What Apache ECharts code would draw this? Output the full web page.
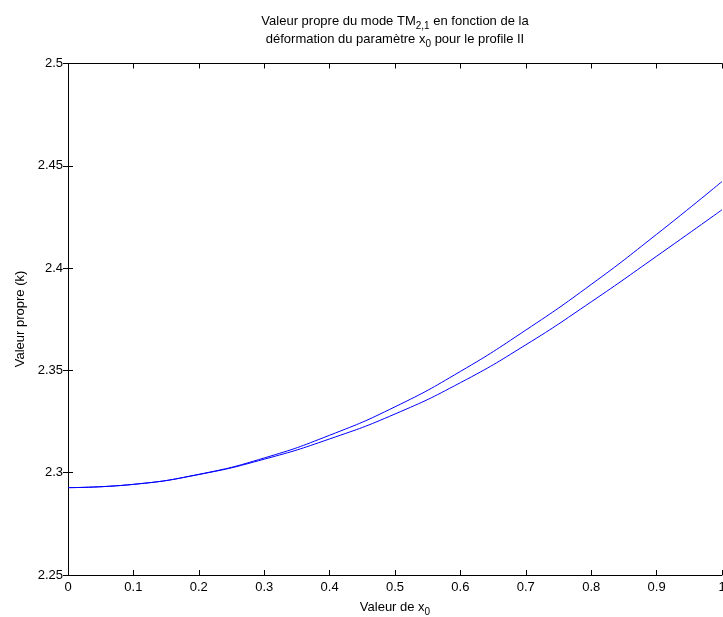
<!DOCTYPE html>
<html>
<head>
<meta charset="utf-8">
<script src="https://cdn.jsdelivr.net/npm/echarts@6/dist/echarts.min.js"></script>
<style>
html,body{margin:0;padding:0;background:#fff;}
#c{width:723px;height:617px;}
</style>
</head>
<body>
<div id="c"></div>
<script>
const xValues = [0, 0.1, 0.2, 0.3, 0.4, 0.5, 0.6, 0.7, 0.8, 0.9, 1.0];
const upperCurve = [2.2927, 2.2943, 2.2992, 2.3072, 2.3183, 2.3322, 2.3495, 2.3697, 2.3920, 2.4165, 2.4423];
const lowerCurve = [2.2927, 2.2943, 2.2991, 2.3066, 2.3165, 2.3287, 2.3440, 2.3625, 2.3835, 2.4058, 2.4285];
const xTicks = ['0','0.1','0.2','0.3','0.4','0.5','0.6','0.7','0.8','0.9','1'];
const yTicks = ['2.25','2.3','2.35','2.4','2.45','2.5'];

const FONT = 'Liberation Sans, Arial, Helvetica, sans-serif';
const chart = echarts.init(document.getElementById('c'), null, {renderer:'canvas'});

const subRich = { s: { fontSize: 10, fontFamily: FONT, lineHeight: 10, padding: [10,0,0,0], fill:'#000' } };

const axisCommon = {
  axisLine: { show: true, lineStyle: { color: '#000', width: 1 } },
  axisTick: { show: true, inside: true, length: 5, lineStyle: { color: '#000' } },
  splitLine: { show: false }
};

chart.setOption({
  animation: false,
  backgroundColor: '#fff',
  grid: { left: 68, right: 1, top: 63.5, bottom: 42, containLabel: false, outerBoundsMode: 'none' },
  xAxis: [
    Object.assign({}, axisCommon, {
      type: 'value', min: 0, max: 1, interval: 0.1, position: 'bottom',
      axisLabel: { color: '#000', fontSize: 13, fontFamily: FONT, margin: 6, hideOverlap: false,
        formatter: v => xTicks[Math.round(v*10)] }
    }),
    Object.assign({}, axisCommon, {
      type: 'value', min: 0, max: 1, interval: 0.1, position: 'top',
      axisLabel: { show: false }
    })
  ],
  yAxis: [
    Object.assign({}, axisCommon, {
      type: 'value', min: 2.25, max: 2.5, interval: 0.05, position: 'left',
      axisLabel: { color: '#000', fontSize: 13, fontFamily: FONT, margin: 5,
        formatter: v => yTicks[Math.round((v-2.25)/0.05)] }
    }),
    Object.assign({}, axisCommon, {
      type: 'value', min: 2.25, max: 2.5, interval: 0.05, position: 'right',
      axisLabel: { show: false }
    })
  ],
  series: [
    { type: 'line', xAxisIndex: 0, yAxisIndex: 0, showSymbol: false, smooth: true,
      lineStyle: { color: '#0000ff', width: 1 },
      data: xValues.map((x,i) => [x, upperCurve[i]]) },
    { type: 'line', xAxisIndex: 0, yAxisIndex: 0, showSymbol: false, smooth: true,
      lineStyle: { color: '#0000ff', width: 1 },
      data: xValues.map((x,i) => [x, lowerCurve[i]]) }
  ],
  graphic: [
    { type: 'text', x: 395, y: 21, style: {
        text: 'Valeur propre du mode TM{s|2,1} en fonction de la',
        rich: subRich, fontSize: 13, fontFamily: FONT, fill: '#000', align: 'center', verticalAlign: 'middle' } },
    { type: 'text', x: 395, y: 39, style: {
        text: 'déformation du paramètre x{s|0} pour le profile II',
        rich: subRich, fontSize: 13, fontFamily: FONT, fill: '#000', align: 'center', verticalAlign: 'middle' } },
    { type: 'text', x: 395, y: 607, style: {
        text: 'Valeur de x{s|0}',
        rich: subRich, fontSize: 13, fontFamily: FONT, fill: '#000', align: 'center', verticalAlign: 'middle' } },
    { type: 'text', x: 20, y: 319, rotation: Math.PI/2, style: {
        text: 'Valeur propre (k)', fontSize: 13, fontFamily: FONT, fill: '#000', align: 'center', verticalAlign: 'middle' } }
  ]
});
</script>
</body>
</html>
